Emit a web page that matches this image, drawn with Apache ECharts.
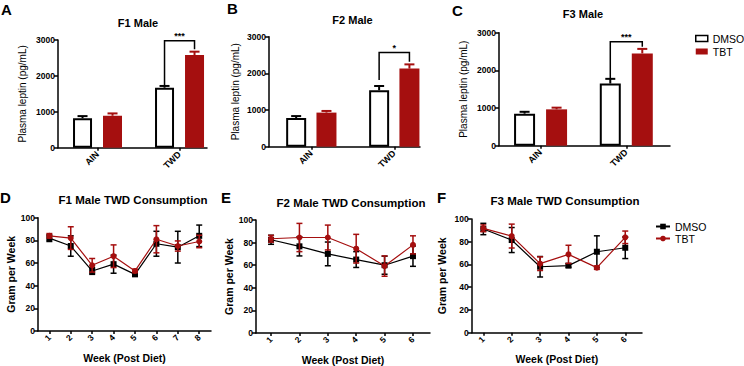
<!DOCTYPE html>
<html><head><meta charset="utf-8">
<script src="https://cdn.jsdelivr.net/npm/echarts@6/dist/echarts.min.js"></script>
<style>html,body{margin:0;padding:0;background:#fff}#c{width:744px;height:366px}</style>
</head><body><div id="c"></div>
<script>
// ---------------- DATA ----------------
const barCategories = ['AIN', 'TWD'];
const leptinTicks = [0, 1000, 2000, 3000];

const f1LeptinDMSO = [820, 1670];
const f1LeptinDMSOSem = [60, 50];
const f1LeptinTBT = [890, 2580];
const f1LeptinTBTSem = [65, 95];

const f2LeptinDMSO = [780, 1540];
const f2LeptinDMSOSem = [55, 115];
const f2LeptinTBT = [930, 2130];
const f2LeptinTBTSem = [45, 115];

const f3LeptinDMSO = [850, 1650];
const f3LeptinDMSOSem = [50, 125];
const f3LeptinTBT = [965, 2450];
const f3LeptinTBTSem = [45, 120];

// significance brackets on TWD: [top, left leg end, right leg end]
const f1Bracket = [2980, 1750, 2740];
const f2Bracket = [2570, 1820, 2320];
const f3Bracket = [2760, 1790, 2630];
const sigLabels = ['***', '*', '***'];

const weeksF1 = [1, 2, 3, 4, 5, 6, 7, 8];
const weeksF2 = [1, 2, 3, 4, 5, 6];
const weeksF3 = [1, 2, 3, 4, 5, 6];

const f1IntakeDMSO = [82, 75, 53, 59, 50, 77, 74, 84];
const f1IntakeDMSOSem = [3, 9, 3, 8, 1.5, 11, 14, 9.5];
const f1IntakeTBT = [84, 82, 58, 66, 53, 81, 75, 79];
const f1IntakeTBTSem = [2, 10, 6, 10, 1.5, 12, 4.5, 5.5];

const f2IntakeDMSO = [82.5, 76.7, 70, 65, 60, 68];
const f2IntakeDMSOSem = [4, 8.5, 10.5, 7, 8, 9];
const f2IntakeTBT = [83.4, 84.5, 84.5, 74.6, 59.2, 78];
const f2IntakeTBTSem = [3, 12.5, 11, 12.7, 9, 8];

const f3IntakeDMSO = [91.2, 81.5, 58, 59, 71.2, 74.7];
const f3IntakeDMSOSem = [5, 11, 9, 1.5, 14, 9.5];
const f3IntakeTBT = [91.8, 85, 60.7, 68.9, 57.2, 83.9];
const f3IntakeTBTSem = [3, 10.5, 6, 8, 1.5, 5.5];

const intakeTicks = [0, 20, 40, 60, 80, 100];

// ---------------- STYLE / LAYOUT ----------------
const FONT = 'Liberation Sans, Arial, sans-serif';
const RED = '#a50f0f';
const BLK = '#000';
const axisLine = { show: true, onZero: false, lineStyle: { color: BLK, width: 1.5 } };

const barPanels = [
  { grid: { left: 58, top: 40, width: 149, height: 107.7 }, xr: [0.518, 2.335], bw: 19, gap: 11, nameGap: 31,
    dmso: f1LeptinDMSO, dmsoSem: f1LeptinDMSOSem, tbt: f1LeptinTBT, tbtSem: f1LeptinTBTSem, bracket: f1Bracket, sig: sigLabels[0] },
  { grid: { left: 269, top: 36.7, width: 151, height: 110 }, xr: [0.49, 2.31], bw: 20, gap: 10.3, nameGap: 29,
    dmso: f2LeptinDMSO, dmsoSem: f2LeptinDMSOSem, tbt: f2LeptinTBT, tbtSem: f2LeptinTBTSem, bracket: f2Bracket, sig: sigLabels[1] },
  { grid: { left: 499, top: 32.7, width: 171, height: 113 }, xr: [0.515, 2.51], bw: 21, gap: 11, nameGap: 31,
    dmso: f3LeptinDMSO, dmsoSem: f3LeptinDMSOSem, tbt: f3LeptinTBT, tbtSem: f3LeptinTBTSem, bracket: f3Bracket, sig: sigLabels[2] }
];
const linePanels = [
  { grid: { left: 38, top: 217.7, width: 173, height: 113.3 }, xr: [0.47, 8.55], nameGap: 20, weeks: weeksF1,
    dmso: f1IntakeDMSO, dmsoSem: f1IntakeDMSOSem, tbt: f1IntakeTBT, tbtSem: f1IntakeTBTSem },
  { grid: { left: 256, top: 220, width: 174, height: 115 }, xr: [0.47, 6.6], nameGap: 22, weeks: weeksF2,
    dmso: f2IntakeDMSO, dmsoSem: f2IntakeDMSOSem, tbt: f2IntakeTBT, tbtSem: f2IntakeTBTSem },
  { grid: { left: 471.7, top: 219, width: 170.3, height: 113.7 }, xr: [0.59, 6.59], nameGap: 24, weeks: weeksF3,
    dmso: f3IntakeDMSO, dmsoSem: f3IntakeDMSOSem, tbt: f3IntakeTBT, tbtSem: f3IntakeTBTSem }
];

const titles = [
  { text: 'F1 Male', x: 138, y: 17, size: 11 },
  { text: 'F2 Male', x: 352.5, y: 14, size: 11 },
  { text: 'F3 Male', x: 583, y: 8, size: 11 },
  { text: 'F1 Male TWD Consumption', x: 133, y: 194, size: 11.5 },
  { text: 'F2 Male TWD Consumption', x: 351, y: 197, size: 11.5 },
  { text: 'F3 Male TWD Consumption', x: 565, y: 195, size: 11.5 }
];
const letters = [
  { text: 'A', x: 1, y: 2 }, { text: 'B', x: 227, y: 1 }, { text: 'C', x: 452, y: 3 },
  { text: 'D', x: 0, y: 190 }, { text: 'E', x: 221, y: 190 }, { text: 'F', x: 437, y: 190 }
];

// ---------------- RENDERERS ----------------
function barErr(dx, color) {
  return function (p, api) {
    const a = api.coord([api.value(0), api.value(1)]);
    const b = api.coord([api.value(0), api.value(2)]);
    const x = a[0] + dx;
    return { type: 'group', children: [
      { type: 'line', shape: { x1: x, y1: a[1], x2: x, y2: b[1] }, style: { stroke: color, lineWidth: 2 } },
      { type: 'line', shape: { x1: x - 5, y1: b[1], x2: x + 5, y2: b[1] }, style: { stroke: color, lineWidth: 2 } }
    ] };
  };
}
function bracketRender(dx, label) {
  return function (p, api) {
    const c = api.coord([api.value(0), api.value(1)]);
    const yl = api.coord([api.value(0), api.value(2)])[1];
    const yr = api.coord([api.value(0), api.value(3)])[1];
    const xl = c[0] - dx, xr = c[0] + dx, yt = c[1];
    return { type: 'group', children: [
      { type: 'polyline', shape: { points: [[xl, yl], [xl, yt], [xr, yt], [xr, yr]] }, style: { stroke: BLK, lineWidth: 1.5, fill: null } },
      { type: 'text', style: { text: label, x: c[0], y: yt - 9, align: 'center', verticalAlign: 'top', fontSize: 9, fontWeight: 'bold', fill: BLK, fontFamily: FONT } }
    ] };
  };
}
function lineErr(color) {
  return function (p, api) {
    const a = api.coord([api.value(0), api.value(1)]);
    const b = api.coord([api.value(0), api.value(2)]);
    const s = { stroke: color, lineWidth: 1.5 };
    return { type: 'group', children: [
      { type: 'line', shape: { x1: a[0], y1: a[1], x2: b[0], y2: b[1] }, style: s },
      { type: 'line', shape: { x1: a[0] - 3, y1: a[1], x2: a[0] + 3, y2: a[1] }, style: s },
      { type: 'line', shape: { x1: b[0] - 3, y1: b[1], x2: b[0] + 3, y2: b[1] }, style: s }
    ] };
  };
}

// ---------------- OPTION ----------------
const option = {
  animation: false, backgroundColor: '#fff',
  textStyle: { fontFamily: FONT, color: BLK },
  title: [], grid: [], xAxis: [], yAxis: [], series: [],
  legend: [
    { orient: 'vertical', left: 695, top: 33, itemWidth: 12, itemHeight: 6, itemGap: 2, padding: 0,
      textStyle: { fontSize: 10.5, color: BLK, fontFamily: FONT },
      data: [
        { name: 'DMSO', icon: 'rect', itemStyle: { color: '#fff', borderColor: BLK, borderWidth: 1.5 } },
        { name: 'TBT', icon: 'rect', itemStyle: { color: RED, borderColor: RED, borderWidth: 0 } }
      ] },
    { orient: 'vertical', left: 655, top: 221, itemWidth: 14, itemHeight: 7, itemGap: 1, padding: 0,
      textStyle: { fontSize: 10.5, color: BLK, fontFamily: FONT },
      formatter: n => n.split('-')[0],
      data: ['DMSO-line', 'TBT-line'] }
  ]
};

titles.forEach(t => option.title.push({ text: t.text, left: t.x, top: t.y, textAlign: 'center', padding: 0,
  textStyle: { fontSize: t.size, fontWeight: 'bold', color: BLK, fontFamily: FONT } }));
letters.forEach(t => option.title.push({ text: t.text, left: t.x, top: t.y, padding: 0,
  textStyle: { fontSize: 15, fontWeight: 'bold', color: BLK, fontFamily: FONT } }));

const plain = v => String(v);
const catPos = barCategories.map((c, k) => k + 1);
barPanels.forEach((P, i) => {
  option.grid.push(Object.assign({ containLabel: false }, P.grid));
  option.xAxis.push({ gridIndex: i, type: 'value', min: P.xr[0], max: P.xr[1], axisLine,
    axisTick: { show: true, customValues: catPos, length: 3, lineStyle: { color: BLK, width: 1.5 } },
    axisLabel: { customValues: catPos, formatter: v => barCategories[Math.round(v) - 1], rotate: 45, fontSize: 9, fontWeight: 'bold', color: BLK, margin: 5 },
    splitLine: { show: false } });
  option.yAxis.push({ gridIndex: i, type: 'value', min: leptinTicks[0], max: leptinTicks[leptinTicks.length - 1], interval: 1000,
    name: 'Plasma leptin (pg/mL)', nameLocation: 'middle', nameGap: P.nameGap, nameTextStyle: { fontSize: 10, color: BLK },
    axisLine, axisTick: { show: true, length: 4, lineStyle: { color: BLK, width: 1.5 } },
    axisLabel: { formatter: plain, fontSize: 8.5, fontWeight: 'bold', color: BLK, margin: 3 }, splitLine: { show: false } });
  const half = (P.bw + P.gap) / 2;
  const gapPct = (P.gap / P.bw * 100).toFixed(1) + '%';
  option.series.push(
    { type: 'bar', name: 'DMSO', xAxisIndex: i, yAxisIndex: i, barWidth: P.bw, barGap: gapPct,
      data: P.dmso.map((v, k) => [catPos[k], v]), itemStyle: { color: '#fff', borderColor: BLK, borderWidth: 2 } },
    { type: 'bar', name: 'TBT', xAxisIndex: i, yAxisIndex: i, barWidth: P.bw, barGap: gapPct,
      data: P.tbt.map((v, k) => [catPos[k], v]), itemStyle: { color: RED, borderColor: RED, borderWidth: 0 } },
    { type: 'custom', xAxisIndex: i, yAxisIndex: i, z: 3, renderItem: barErr(-half, BLK),
      data: P.dmso.map((v, k) => [catPos[k], v, v + P.dmsoSem[k]]) },
    { type: 'custom', xAxisIndex: i, yAxisIndex: i, z: 3, renderItem: barErr(half, RED),
      data: P.tbt.map((v, k) => [catPos[k], v, v + P.tbtSem[k]]) },
    { type: 'custom', xAxisIndex: i, yAxisIndex: i, z: 3, renderItem: bracketRender(half, P.sig),
      data: [[catPos[1], P.bracket[0], P.bracket[1], P.bracket[2]]] }
  );
});

linePanels.forEach((P, j) => {
  const i = j + 3;
  option.grid.push(Object.assign({ containLabel: false }, P.grid));
  option.xAxis.push({ gridIndex: i, type: 'value', min: P.xr[0], max: P.xr[1], axisLine,
    name: 'Week (Post Diet)', nameLocation: 'middle', nameGap: 21, nameTextStyle: { fontSize: 10.5, fontWeight: 'bold', color: BLK },
    axisTick: { show: true, customValues: P.weeks, length: 3, lineStyle: { color: BLK, width: 1.5 } },
    axisLabel: { customValues: P.weeks, formatter: plain, rotate: 45, fontSize: 8.5, fontWeight: 'bold', color: BLK, margin: 5 },
    splitLine: { show: false } });
  option.yAxis.push({ gridIndex: i, type: 'value', min: intakeTicks[0], max: intakeTicks[intakeTicks.length - 1], interval: 20,
    name: 'Gram per Week', nameLocation: 'middle', nameGap: P.nameGap, nameTextStyle: { fontSize: 10.5, fontWeight: 'bold', color: BLK },
    axisLine, axisTick: { show: true, length: 4, lineStyle: { color: BLK, width: 1.5 } },
    axisLabel: { formatter: plain, fontSize: 8.5, fontWeight: 'bold', color: BLK, margin: 3 }, splitLine: { show: false } });
  option.series.push(
    { type: 'custom', xAxisIndex: i, yAxisIndex: i, z: 2, renderItem: lineErr(BLK),
      data: P.dmso.map((v, k) => [P.weeks[k], v - P.dmsoSem[k], v + P.dmsoSem[k]]) },
    { type: 'line', name: 'DMSO-line', xAxisIndex: i, yAxisIndex: i, z: 3, symbol: 'rect', symbolSize: 6,
      data: P.dmso.map((v, k) => [P.weeks[k], v]), itemStyle: { color: BLK }, lineStyle: { color: BLK, width: 1.2 } },
    { type: 'custom', xAxisIndex: i, yAxisIndex: i, z: 4, renderItem: lineErr(RED),
      data: P.tbt.map((v, k) => [P.weeks[k], v - P.tbtSem[k], v + P.tbtSem[k]]) },
    { type: 'line', name: 'TBT-line', xAxisIndex: i, yAxisIndex: i, z: 5, symbol: 'circle', symbolSize: 6,
      data: P.tbt.map((v, k) => [P.weeks[k], v]), itemStyle: { color: RED }, lineStyle: { color: RED, width: 1.2 } }
  );
});

const chart = echarts.init(document.getElementById('c'), null, { renderer: 'svg' });
chart.setOption(option);
</script>
</body></html>
